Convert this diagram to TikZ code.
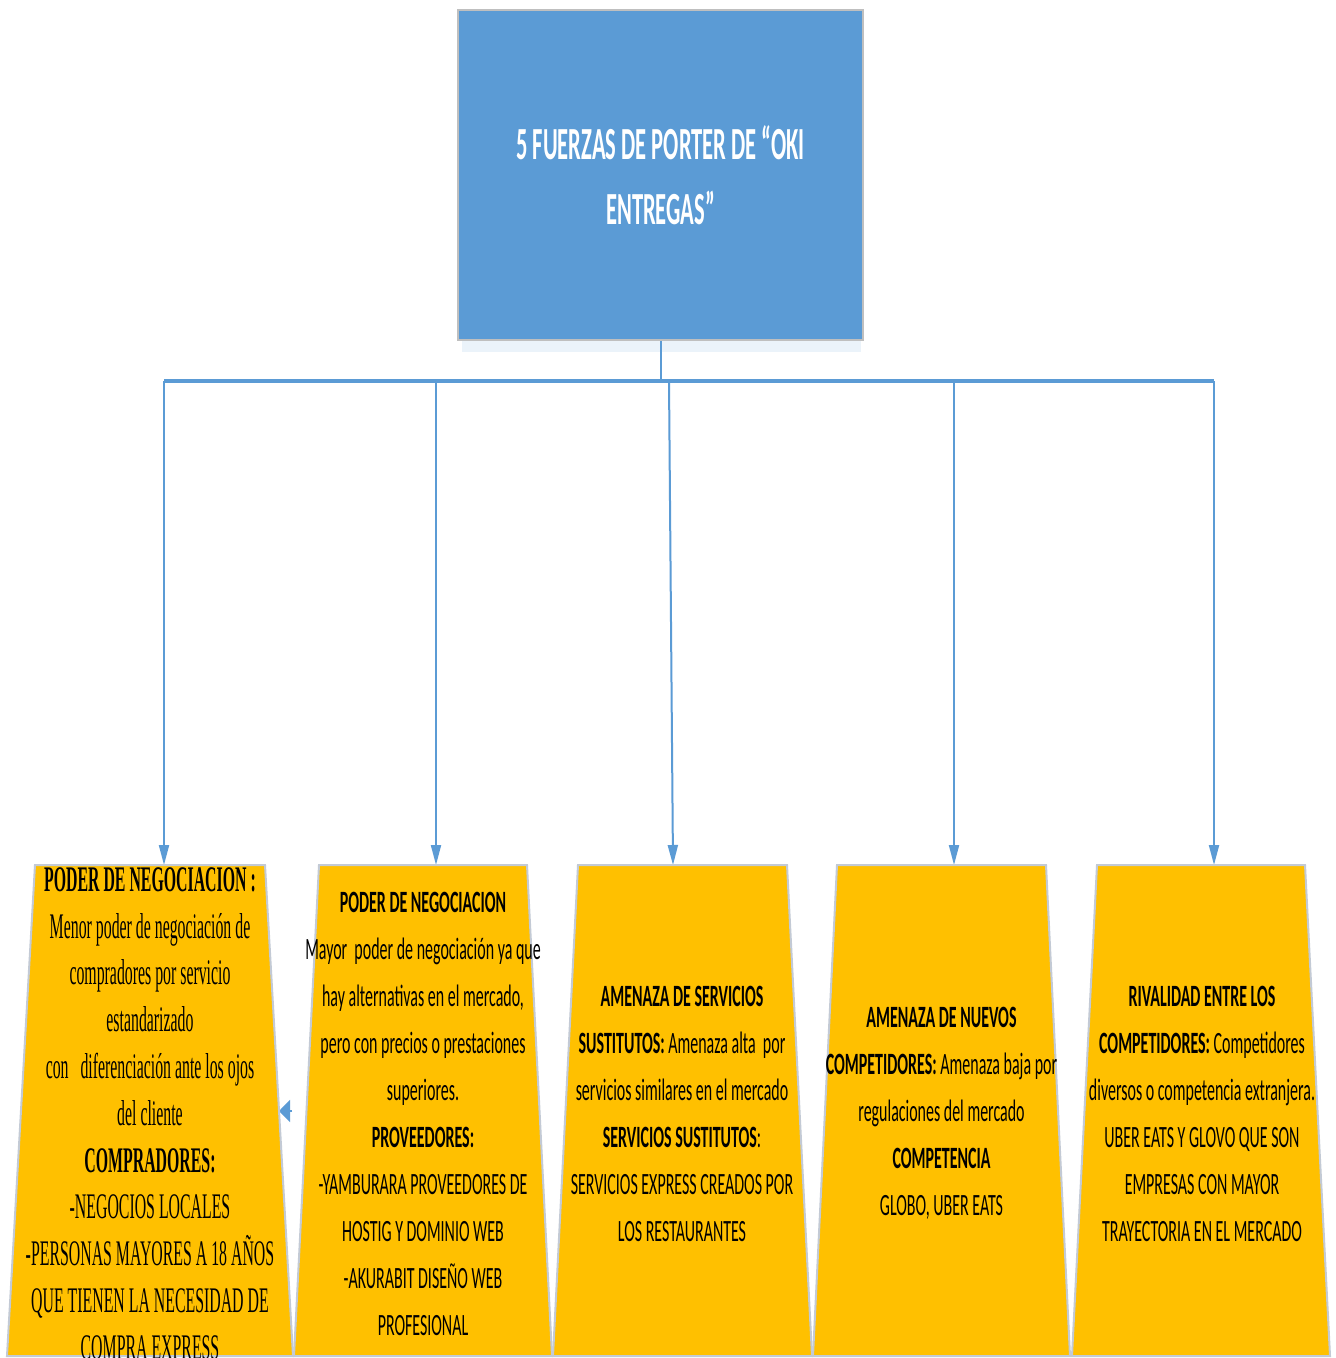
\documentclass[tikz,border=0pt]{standalone}
\usepackage{fontspec}
\usetikzlibrary{arrows.meta}
\newfontfamily\calib[FakeStretch=0.515]{Carlito}
\newfontfamily\calibT[FakeStretch=0.49]{Carlito}
\newfontfamily\tms[FakeStretch=0.44]{Liberation Serif}
\definecolor{topblue}{HTML}{5B9BD5}
\definecolor{gold}{HTML}{FFC000}
\definecolor{edge}{HTML}{C3CAD5}
\begin{document}
\begin{tikzpicture}[x=0.5pt,y=-0.5pt,
  conn/.style={draw=topblue, line width=1pt},
  arr/.style={conn,-{Triangle[length=10pt,width=5pt]}},
  force/.style={fill=gold, draw=edge, line width=1pt},
  ftext/.style={align=center, font=\calib\fontsize{15.5}{23.5}\selectfont, text=black, inner sep=0pt},
]
\useasboundingbox (0,0) rectangle (1336,1358);
\fill[white] (0,0) rectangle (1336,1358);

% shadow of the title box
\fill[topblue!20, opacity=0.6] (462,340) rectangle (861,352);

% title
\node (top) [fill=topblue, draw=black!25, line width=0.8pt, minimum width=202.5pt, minimum height=165pt,
  text=white, align=center, inner sep=0pt, font=\calibT\bfseries\fontsize{23}{32.5}\selectfont]
  at (660.5,175) {5 FUERZAS DE PORTER DE “OKI\\ENTREGAS”};

% bus
\coordinate (bus) at (660.5,381);
\coordinate (b1) at (164,381);
\coordinate (b2) at (436,381);
\coordinate (b3) at (669,381);
\coordinate (b4) at (954,381);
\coordinate (b5) at (1214,381);
\coordinate (t1) at (164,865);
\coordinate (t2) at (436,865);
\coordinate (t3) at (673,865);
\coordinate (t4) at (954,865);
\coordinate (t5) at (1214,865);
\draw[conn] (top.south) -- (bus);
\draw[draw=topblue, line width=2pt] (b1) -- (b5);
\draw[arr] (b1) -- (t1);
\draw[arr] (b2) -- (t2);
\draw[arr] (b3) -- (t3);
\draw[arr] (b4) -- (t4);
\draw[arr] (b5) -- (t5);

% hidden connector tip next to box 1
\coordinate (h1) at (292,1111);
\coordinate (h2) at (279,1111);
\draw[conn,-{Triangle[length=5.5pt,width=11pt]}] (h1) -- (h2);

% force boxes
\path[force] (35,865) -- (265,865) -- (293,1356) -- (7,1356) -- cycle;
\path[force] (319,865) -- (527,865) -- (552,1356) -- (294,1356) -- cycle;
\path[force] (578,865) -- (787,865) -- (812,1356) -- (553,1356) -- cycle;
\path[force] (837,865) -- (1046,865) -- (1070,1356) -- (813,1356) -- cycle;
\path[force] (1097,865) -- (1305,865) -- (1330,1356) -- (1072,1356) -- cycle;

\node (f1) [ftext, font=\tms\fontsize{18}{23.4}\selectfont] at (150,1113.5) {%
\textbf{PODER DE NEGOCIACION :}\\
Menor poder de negociación de\\
compradores por servicio\\
estandarizado\\
con\ \ \ diferenciación ante los ojos\\
del cliente\\
\textbf{COMPRADORES:}\\
-NEGOCIOS LOCALES\\
-PERSONAS MAYORES A 18 AÑOS\\
QUE TIENEN LA NECESIDAD DE\\
COMPRA EXPRESS};

\node (f2) [ftext] at (423,1113.5) {%
\textbf{PODER DE NEGOCIACION}\\
Mayor\ \ poder de negociación ya que\\
hay alternativas en el mercado,\\
pero con precios o prestaciones\\
superiores.\\
\textbf{PROVEEDORES:}\\
-YAMBURARA PROVEEDORES DE\\
HOSTIG Y DOMINIO WEB\\
-AKURABIT DISEÑO WEB\\
PROFESIONAL};

\node (f3) [ftext] at (682,1114) {%
\textbf{AMENAZA DE SERVICIOS}\\
\textbf{SUSTITUTOS:} Amenaza alta\ \ por\\
servicios similares en el mercado\\
\textbf{SERVICIOS SUSTITUTOS}:\\
SERVICIOS EXPRESS CREADOS POR\\
LOS RESTAURANTES};

\node (f4) [ftext] at (941.5,1113.5) {%
\textbf{AMENAZA DE NUEVOS}\\
\textbf{COMPETIDORES:} Amenaza baja por\\
regulaciones del mercado\\
\textbf{COMPETENCIA}\\
GLOBO, UBER EATS};

\node (f5) [ftext] at (1202,1113.5) {%
\textbf{RIVALIDAD ENTRE LOS}\\
\textbf{COMPETIDORES:} Competidores\\
diversos o competencia extranjera.\\
UBER EATS Y GLOVO QUE SON\\
EMPRESAS CON MAYOR\\
TRAYECTORIA EN EL MERCADO};
\end{tikzpicture}
\end{document}
